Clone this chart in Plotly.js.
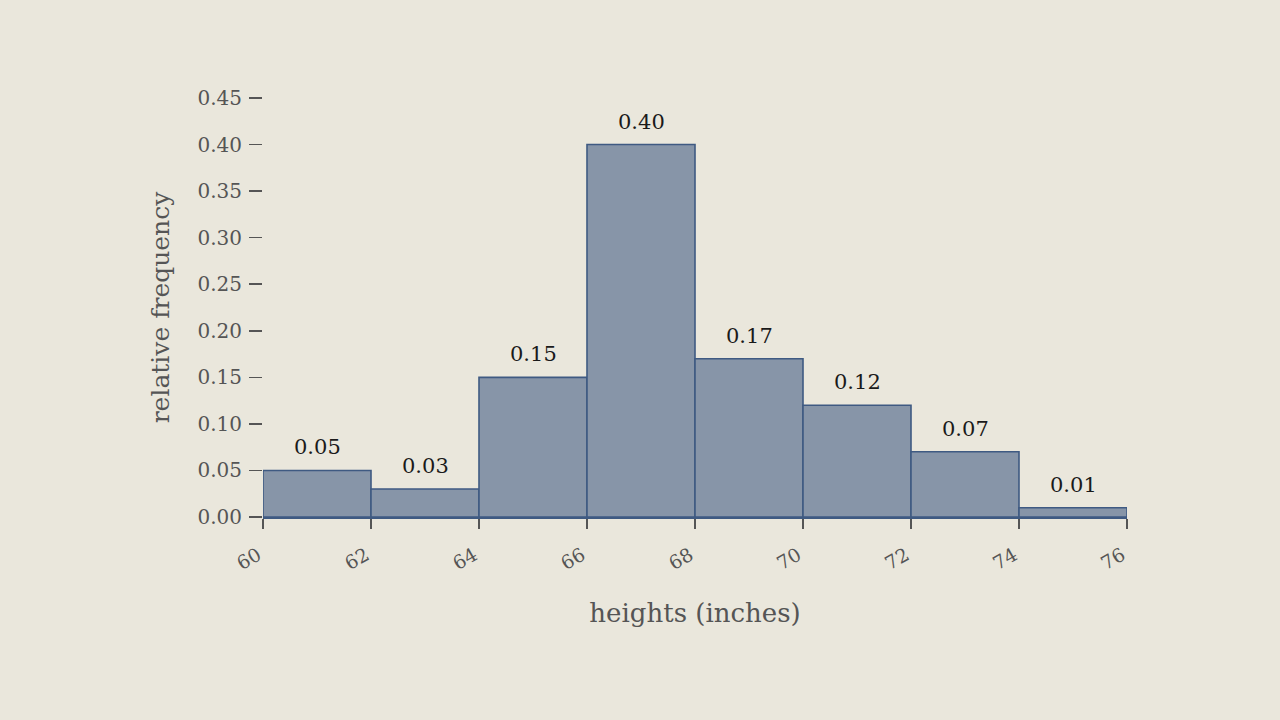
<!DOCTYPE html>
<html>
<head>
<meta charset="utf-8">
<script src="https://cdn.plot.ly/plotly-3.0.1.min.js"></script>
<style>
  html, body { margin: 0; padding: 0; background: #EAE7DC; }
  #plot { width: 1280px; height: 720px; }
</style>
</head>
<body>
<div id="plot"></div>
<script>
// bins of 2 inches, from 60 to 76
const binCenters = [61, 63, 65, 67, 69, 71, 73, 75];
const relFreq = [0.05, 0.03, 0.15, 0.40, 0.17, 0.12, 0.07, 0.01];
const binEdges = [60, 62, 64, 66, 68, 70, 72, 74, 76];
const yTicks = [0, 0.05, 0.1, 0.15, 0.2, 0.25, 0.3, 0.35, 0.4, 0.45];

const serif = 'DejaVu Serif, serif';

// one bar per bin
const bars = {
    x: binCenters,
    y: relFreq,
    width: 2,
    type: 'bar',
    marker: {
        color: '#8795A8',
        line: { color: '#3F5A82', width: 1.6 }
    },
    hoverinfo: 'x+y',
    showlegend: false
};

// value labels sit a bit higher above the bars than plotly's 'outside' text does
const labels = binCenters.map((c, i) => ({
    x: c,
    y: relFreq[i],
    xref: 'x',
    yref: 'y',
    text: relFreq[i].toFixed(2),
    showarrow: false,
    yanchor: 'bottom',
    yshift: 9,
    font: { family: serif, size: 21, color: '#1a1a1a' }
}));

const layout = {
    width: 1280,
    height: 720,
    paper_bgcolor: '#EAE7DC',
    plot_bgcolor: '#EAE7DC',
    font: { family: serif, color: '#555555' },
    margin: { l: 263, r: 153, t: 98, b: 203 },
    bargap: 0,
    annotations: labels,
    xaxis: {
        range: [60, 76],
        tickvals: binEdges,
        ticktext: binEdges.map(String),
        tickangle: -30,
        ticks: 'outside',
        ticklen: 10,
        tickwidth: 1.5,
        tickcolor: '#555555',
        ticklabelstandoff: 8,
        ticklabelshift: -5,
        tickfont: { family: serif, size: 19, color: '#555555' },
        showgrid: false,
        zeroline: false,
        showline: true,
        linecolor: '#3F5A82',
        linewidth: 2,
        title: { text: 'heights (inches)', font: { family: serif, size: 26, color: '#555555' }, standoff: 31 }
    },
    yaxis: {
        range: [0, 0.45],
        tickvals: yTicks,
        tickformat: '.2f',
        ticks: 'outside',
        ticklen: 13,
        tickwidth: 1.5,
        tickcolor: '#555555',
        ticklabelstandoff: 3,
        tickfont: { family: serif, size: 20, color: '#555555' },
        showgrid: false,
        zeroline: false,
        showline: false,
        title: { text: 'relative frequency', font: { family: serif, size: 25, color: '#555555' }, standoff: 20 }
    }
};

Plotly.newPlot('plot', [bars], layout, { displayModeBar: false, staticPlot: true });
</script>
</body>
</html>
